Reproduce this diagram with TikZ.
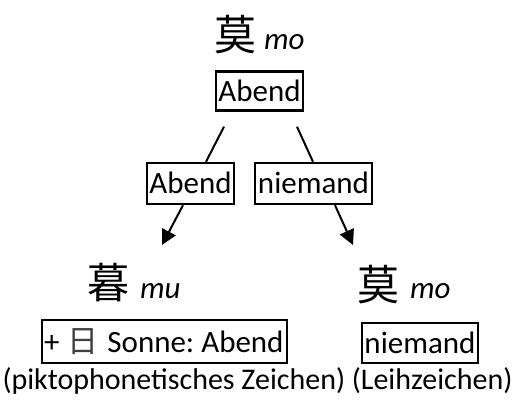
\documentclass[tikz,border=0pt]{standalone}
\usepackage{fontspec}
\setmainfont{Carlito}
\newfontfamily\cjk{Noto Sans CJK SC}
\usetikzlibrary{arrows.meta}
\frenchspacing
\begin{document}
\begin{tikzpicture}[x=1pt,y=-1pt,
  every node/.style={inner sep=0pt,font=\fontsize{31}{36}\selectfont},
  hanzi/.style={font=\fontsize{42}{46}\selectfont\cjk},
  pinyin/.style={anchor=base west,font=\fontsize{31}{36}\selectfont\itshape},
  meaning/.style={draw,line width=2.4pt,minimum height=#1,text depth=0.25ex},
  branch/.style={line width=2pt},
  pointer/.style={line width=2pt,-{Triangle[length=15pt,width=15pt]}}]
\useasboundingbox (0,0) rectangle (515,403);

% source character
\node[hanzi] (src) at (235,35) {莫};
\node[pinyin] (srcpy) at (264,50) {mo};
\node[meaning=39pt,minimum width=87pt] (srcbox) at (259.5,91) {Abend};

% the two meanings
\node[meaning=41pt,minimum width=87pt] (ab) at (190.5,183.5) {Abend};
\node[meaning=41pt,minimum width=117pt] (nm) at (313.5,183.5) {niemand};

\draw[branch] ([xshift=-35.5pt,yshift=-15pt]srcbox.south) -- ([xshift=15.5pt]ab.north);
\draw[branch] ([xshift=37.5pt,yshift=-15pt]srcbox.south) -- ([xshift=-0.5pt]nm.north);

% derived characters
\node[hanzi] (mu) at (108,283) {暮};
\node[pinyin] (mupy) at (140,299) {mu};
\node[hanzi] (mo) at (378,285) {莫};
\node[pinyin] (mopy) at (410,299) {mo};

\coordinate (tipL) at (162,245);
\coordinate (tipR) at (353,245);
\draw[pointer] ([xshift=-7.5pt]ab.south) -- (tipL);
\draw[pointer] ([xshift=21.5pt]nm.south) -- (tipR);

\node[meaning=43pt,minimum width=245pt] (mubox) at (164.5,341.5)
  {\makebox[241pt][l]{+\hspace{8.5pt}{\cjk\color{black!75}日}\hspace{8.5pt}Sonne: Abend}};
\node[meaning=40pt,minimum width=116pt] (mobox) at (420,343) {niemand};

\node[font=\fontsize{30}{36}\selectfont] (kinds) at (257.5,381) {(piktophonetisches Zeichen) (Leihzeichen)};
\end{tikzpicture}
\end{document}
